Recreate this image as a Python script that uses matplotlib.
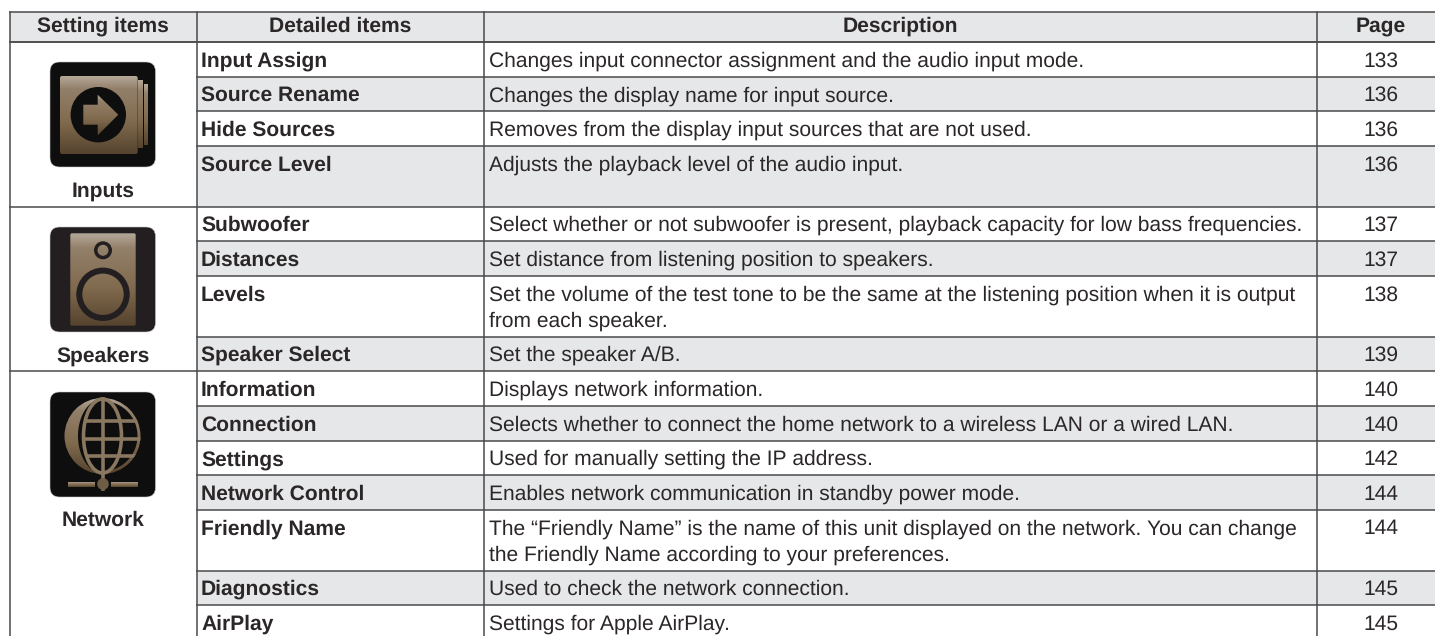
import matplotlib
matplotlib.use("Agg")
import matplotlib.pyplot as plt
import numpy as np
from matplotlib.colors import LinearSegmentedColormap
from matplotlib.patches import Circle, Ellipse, FancyBboxPatch, Polygon, Rectangle

headers = ["Setting items", "Detailed items", "Description", "Page"]
items = ["Input Assign", "Source Rename", "Hide Sources", "Source Level",
         "Subwoofer", "Distances", "Levels", "Speaker Select",
         "Information", "Connection", "Settings", "Network Control",
         "Friendly Name", "Diagnostics", "AirPlay"]
descriptions = [
    "Changes input connector assignment and the audio input mode.",
    "Changes the display name for input source.",
    "Removes from the display input sources that are not used.",
    "Adjusts the playback level of the audio input.",
    "Select whether or not subwoofer is present, playback capacity for low bass frequencies.",
    "Set distance from listening position to speakers.",
    "Set the volume of the test tone to be the same at the listening position when it is output\nfrom each speaker.",
    "Set the speaker A/B.",
    "Displays network information.",
    "Selects whether to connect the home network to a wireless LAN or a wired LAN.",
    "Used for manually setting the IP address.",
    "Enables network communication in standby power mode.",
    "The \u201cFriendly Name\u201d is the name of this unit displayed on the network. You can change\nthe Friendly Name according to your preferences.",
    "Used to check the network connection.",
    "Settings for Apple AirPlay.",
]
pages = [133, 136, 136, 136, 137, 137, 138, 139, 140, 140, 142, 144, 144, 145, 145]
row_lines = [1, 1, 1, 2, 1, 1, 2, 1, 1, 1, 1, 1, 2, 1, 1]
groups = ["Inputs", "Speakers", "Network"]
group_rows = [4, 4, 7]

W, H = 1435, 636
TEXT = "#2b2728"
LINE = "#4a4a4c"
GREY = "#e6e7e8"
BROWN = "#8a775f"
FS = 15.2
col_x = [10, 196.5, 484, 1317, 1435]
head_top, head_bottom = 11.5, 42
row_h = {1: 34.7, 2: 60.5}

plt.rcParams["font.family"] = ["Liberation Sans", "DejaVu Sans"]
plt.rcParams["text.hinting"] = "none"
plt.rcParams["text.hinting_factor"] = 1
fig = plt.figure(figsize=(W / 100, H / 100), dpi=100)
ax = fig.add_axes([0, 0, 1, 1])
ax.set_xlim(0, W)
ax.set_ylim(H, 0)
ax.set_autoscale_on(False)
ax.axis("off")

brown_map = LinearSegmentedColormap.from_list(
    "brown", [(0, "#b5a899"), (0.16, "#93806a"), (0.6, "#806a4e"), (1, "#55432e")])
grad = np.linspace(0, 1, 128).reshape(-1, 1)


def gradient(x0, y0, x1, y1, clip=None):
    im = ax.imshow(grad, extent=(x0, x1, y1, y0), cmap=brown_map, aspect="auto",
                   zorder=4, interpolation="bilinear")
    if clip is not None:
        clip.set_transform(ax.transData)
        im.set_clip_path(clip)
    return im


def icon_box(y0, color):
    ax.add_patch(FancyBboxPatch((59.5, y0 + 9.5), 86.5, 86, boxstyle="round,pad=9.5",
                                fc=color, ec="#c8c8c8", lw=0.4, zorder=3))


# header and row shading
ax.add_patch(Rectangle((col_x[0], head_top), W - col_x[0], head_bottom - head_top, fc=GREY, ec="none"))
y = head_bottom
row_tops = []
for i, n in enumerate(row_lines):
    row_tops.append(y)
    if i % 2 == 1:
        ax.add_patch(Rectangle((col_x[1], y), W - col_x[1], row_h[n], fc=GREY, ec="none"))
    y += row_h[n]

head_x = [103, 340, 900, 1381]
for hx, h in zip(head_x, headers):
    ax.text(hx, 32, h, ha="center", va="baseline", fontsize=FS, fontweight="bold", color=TEXT)

for top, n, item, desc, page in zip(row_tops, row_lines, items, descriptions, pages):
    ax.text(col_x[1] + 4.5, top + 24.5, item, fontsize=FS, fontweight="bold", color=TEXT, va="baseline")
    for j, line in enumerate(desc.split("\n")):
        ax.text(col_x[2] + 4.7, top + 24.5 + 26 * j, line, fontsize=FS, color=TEXT, va="baseline")
    ax.text(1381, top + 24.5, str(page), fontsize=FS, color=TEXT, ha="center", va="baseline")

# rules
ax.plot([col_x[0], W], [head_top, head_top], color=LINE, lw=1.1, zorder=5)
ax.plot([col_x[0], W], [head_bottom, head_bottom], color=LINE, lw=1.1, zorder=5)
for i, top in enumerate(row_tops):
    x0 = col_x[1]
    if i in (0, 4, 8):
        x0 = col_x[0]
    ax.plot([x0, W], [top, top], color=LINE, lw=1.1, zorder=5)
for x in col_x[:4]:
    ax.plot([x, x], [head_top, H], color=LINE, lw=1.1, zorder=5)

# group labels under the icons
start = 0
for name, n in zip(groups, group_rows):
    top = row_tops[start]
    ax.text(103, top + 155, name, ha="center", va="baseline", fontsize=FS, fontweight="bold", color=TEXT)
    start += n

# Inputs icon
icon_box(62, "#0e0e0e")
gradient(60, 76, 137.7, 154, FancyBboxPatch((62, 78), 73.7, 74, boxstyle="round,pad=2"))
gradient(138.4, 80, 142.6, 148, Rectangle((138.4, 80), 4.2, 68))
gradient(144, 84, 148, 145, Rectangle((144, 84), 4, 61))
ax.add_patch(Circle((98.3, 114.7), 27.7, fc="#0e0e0e", ec="none", zorder=5))
arrow = Polygon([(83.3, 104.7), (97.7, 104.7), (97.7, 94.7), (118.3, 114.7),
                 (97.7, 135.3), (97.7, 124.7), (83.3, 124.7)])
gradient(83, 94, 119, 136, arrow).set_zorder(6)

# Speakers icon
icon_box(227, "#231f20")
gradient(70.3, 233.3, 135.7, 325.7, FancyBboxPatch((72, 235), 62, 89, boxstyle="round,pad=1.7"))
for cy, ro, ri in [(250.3, 9, 5.5), (294.3, 26.7, 20.7)]:
    ax.add_patch(Circle((103, cy), (ro + ri) / 2, fc="none", ec="#231f20", lw=(ro - ri) * 0.72, zorder=5))

# Network icon
icon_box(392, "#0e0e0e")
cx, cy, r = 102.5, 436, 38
gradient(cx - r - 1, cy - r, cx + r + 1, cy + r, Circle((cx, cy), r))
t = np.linspace(-np.pi / 2, np.pi / 2, 80)
inner_x = np.r_[cx + 35 * np.cos(t), cx - 24.5 * np.cos(t[::-1])]
inner_y = np.r_[cy + 35 * np.sin(t), cy + 37 * np.sin(t[::-1])]
ax.add_patch(Polygon(np.c_[inner_x, inner_y], fc="#0e0e0e", ec="none", zorder=5))
grid_x = np.r_[cx + r * np.cos(t), cx - 19 * np.cos(t[::-1])]
grid_y = np.r_[cy + r * np.sin(t), cy + r * np.sin(t[::-1])]
grid_clip = Polygon(np.c_[grid_x, grid_y], transform=ax.transData)
for yy in [421, 438.5, 456]:
    ln, = ax.plot([60, 145], [yy, yy], color=BROWN, lw=2.6, zorder=6)
    ln.set_clip_path(grid_clip)
ax.plot([cx, cx], [cy - r + 1, 489], color=BROWN, lw=2.6, zorder=6)
ax.add_patch(Ellipse((cx, cy), 38, 74, fc="none", ec=BROWN, lw=2.6, zorder=6))
ax.add_patch(Circle((cx + 0.5, 484), 5.8, fc="#6e5c44", ec="none", zorder=7))
gradient(68, 482, 95, 487, Rectangle((68, 482), 27, 5)).set_zorder(6)
gradient(111, 482, 138, 487, Rectangle((111, 482), 27, 5)).set_zorder(6)

plt.savefig("out.png", dpi=100)
